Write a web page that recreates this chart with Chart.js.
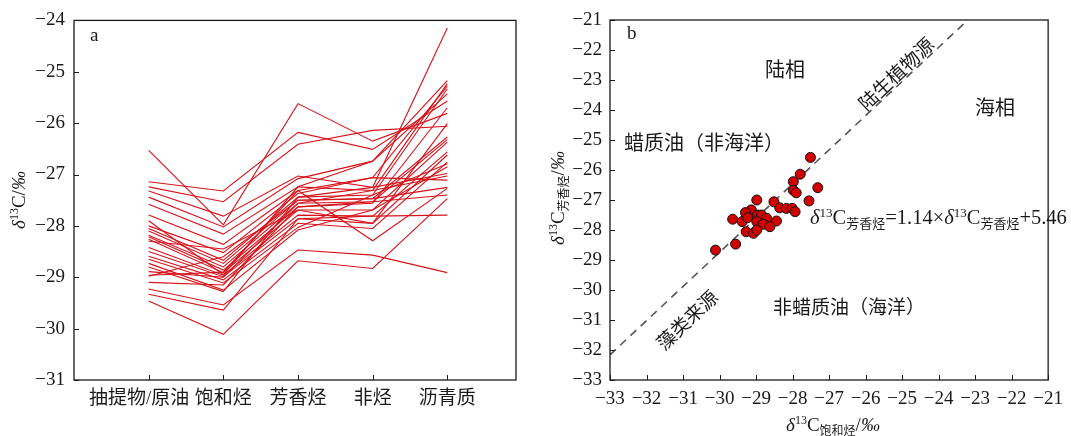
<!DOCTYPE html>
<html><head><meta charset="utf-8">
<script src="https://cdn.jsdelivr.net/npm/chart.js@4.4.0/dist/chart.umd.min.js"></script>
<style>
html,body{margin:0;padding:0;background:#fff;}
#wrap{position:relative;width:1071px;height:436px;overflow:hidden;background:#fff;}
#ca{position:absolute;left:0;top:0;}
#cb{position:absolute;left:540px;top:0;}
</style></head><body>
<div id="wrap"><canvas id="ca" width="540" height="436"></canvas><canvas id="cb" width="531" height="436"></canvas></div>
<script>
// ---------- data ----------
const categories = ['抽提物/原油','饱和烃','芳香烃','非烃','沥青质'];
const extract    = [-26.53,-27.14,-27.24,-27.32,-27.44,-27.58,-27.79,-28.00,-28.05,-28.10,-28.18,-28.21,-28.26,-28.42,-28.50,-28.59,-28.65,-28.73,-28.80,-28.89,-28.96,-28.98,-29.10,-29.23,-29.33,-29.46,-28.30,-27.90];
const saturates  = [-27.98,-27.32,-27.53,-27.81,-28.02,-28.16,-28.36,-28.52,-28.67,-28.73,-28.80,-28.86,-28.91,-28.96,-28.99,-29.05,-29.11,-29.25,-29.28,-29.00,-28.90,-28.60,-29.15,-29.54,-29.64,-30.11,-28.45,-28.95];
const aromatics  = [-25.62,-26.18,-26.41,-27.03,-27.08,-27.24,-27.31,-27.37,-27.44,-27.50,-27.56,-27.63,-27.69,-27.79,-27.86,-27.95,-28.03,-28.08,-27.44,-27.56,-27.31,-27.50,-27.63,-28.47,-27.86,-28.68,-27.69,-27.24];
const nso        = [-26.35,-26.51,-26.14,-27.25,-26.74,-27.31,-28.29,-27.06,-27.40,-27.47,-27.53,-27.56,-27.69,-27.81,-27.95,-28.05,-27.40,-27.69,-27.25,-27.31,-27.06,-27.47,-27.53,-28.57,-27.81,-28.83,-27.95,-26.74];
const asphaltenes= [-25.81,-25.57,-26.06,-24.15,-25.17,-25.23,-27.27,-25.28,-25.33,-26.27,-26.32,-25.70,-26.37,-26.56,-26.62,-26.76,-26.79,-26.85,-26.98,-27.03,-27.11,-27.25,-27.40,-28.91,-27.79,-27.47,-26.01,-25.43];

const satC = [-27.51,-27.79,-27.98,-27.31,-27.98,-27.90,-27.55,-28.98,-28.51,-28.35,-28.17,-28.01,-27.93,-29.13,-29.29,-29.64,-29.38,-29.23,-28.96,-28.85,-28.71,-28.44,-28.98,-28.80,-28.62,-29.27,-29.07,-28.98,-29.56,-30.11];
const aroC = [-25.58,-26.14,-26.39,-26.59,-26.67,-26.76,-27.03,-27.00,-27.06,-27.26,-27.28,-27.28,-27.39,-27.33,-27.42,-27.64,-27.72,-27.59,-27.50,-27.50,-27.61,-27.70,-27.72,-27.81,-27.89,-28.06,-28.11,-28.00,-28.47,-28.67];

const fitX = [-33, -23.2];
const fitY = [-32.16, -21];

const yTicksA = [-31,-30,-29,-28,-27,-26,-25,-24];
const ticksB  = [-33,-32,-31,-30,-29,-28,-27,-26,-25,-24,-23,-22,-21];

// ---------- styling ----------
const SERIF = '"Liberation Serif","Noto Sans CJK SC",serif';
const CJK = '"Liberation Serif","Noto Sans CJK SC",sans-serif';
const INK = '#1a1a1a';
const RED = 'rgb(214,18,26)';
const minus = v => String(v).replace('-', '\u2212');

function rich(ctx, parts, x, y, rot, align){
  ctx.save(); ctx.translate(x, y); if (rot) ctx.rotate(rot);
  let w = 0;
  parts.forEach(p => { ctx.font = p[1]; p.w = ctx.measureText(p[0]).width; w += p.w; });
  let cx = align === 'left' ? 0 : -w/2;
  ctx.textBaseline = 'alphabetic'; ctx.fillStyle = INK;
  parts.forEach(p => { ctx.font = p[1]; ctx.fillText(p[0], cx, p[2] || 0); cx += p.w; });
  ctx.restore();
}
const F = (s, it) => (it ? 'italic ' : '') + s + 'px ' + SERIF;
function deltaParts(sub, big){
  const m = big || 19, s = Math.round(m * 0.64);
  const p = [['δ', F(m,true), 0], ['13', F(s), -7], ['C', F(m), 0]];
  if (sub) p.push([sub, s + 'px ' + CJK, 4]);
  return p;
}

const frame = {
  id: 'frame',
  afterDatasetsDraw(chart, args, opts){
    const {ctx, chartArea: a} = chart;
    const x = chart.scales.x, y = chart.scales.y;
    ctx.save();
    ctx.strokeStyle = INK; ctx.lineWidth = 1.3;
    ctx.strokeRect(a.left, a.top, a.right - a.left, a.bottom - a.top);
    ctx.lineWidth = 1;
    x.ticks.forEach(t => {
      const px = Math.round(x.getPixelForValue(t.value)) + 0.5;
      ctx.beginPath(); ctx.moveTo(px, a.bottom); ctx.lineTo(px, a.bottom - 5); ctx.stroke();
    });
    y.ticks.forEach(t => {
      const py = Math.round(y.getPixelForValue(t.value)) + 0.5;
      ctx.beginPath(); ctx.moveTo(a.left, py); ctx.lineTo(a.left + 5, py); ctx.stroke();
    });
    ctx.restore();
    if (opts.texts) opts.texts(ctx, chart);
  }
};

// ---------- chart a ----------
const fractions = [extract, saturates, aromatics, nso, asphaltenes];
const lineSets = extract.map((_, i) => ({
  data: fractions.map((arr, k) => ({x: k + 1, y: arr[i]})),
  borderColor: RED, borderWidth: 1.1, pointRadius: 0, fill: false, tension: 0
}));

new Chart(document.getElementById('ca'), {
  type: 'line',
  data: { datasets: lineSets },
  options: {
    responsive: false, animation: false,
    layout: { padding: { top: 20, right: 24, left: 0, bottom: 0 } },
    plugins: { legend: {display: false}, tooltip: {enabled: false},
      frame: { texts: (ctx, chart) => {
        rich(ctx, [['a', F(19)]], 90, 41, 0, 'left');
        ctx.save(); ctx.translate(19, 200); ctx.rotate(-Math.PI/2);
        rich(ctx, deltaParts().concat([['/', F(19)], ['‰', F(19,true)]]), 0, 6, 0);
        ctx.restore();
      } } },
    scales: {
      x: { type: 'linear', min: 0, max: 5.92,
        afterBuildTicks: s => { s.ticks = categories.map((c, i) => ({value: i + 1})); },
        ticks: { callback: v => (v === 1 ? categories[0] + '\u3000' : (categories[v - 1] || '')), font: {family: CJK, size: 19}, color: INK, padding: 8, maxRotation: 0, autoSkip: false },
        grid: { display: false, drawTicks: false }, border: { display: false },
        afterFit: s => { s.height = 56; } },
      y: { type: 'linear', min: -31, max: -24,
        afterBuildTicks: s => { s.ticks = yTicksA.map(v => ({value: v})); },
        ticks: { callback: minus, font: {family: SERIF, size: 19}, color: INK, padding: 9 },
        grid: { display: false, drawTicks: false }, border: { display: false },
        afterFit: s => { s.width = 74; } }
    }
  },
  plugins: [frame]
});

// ---------- chart b ----------
new Chart(document.getElementById('cb'), {
  type: 'scatter',
  data: { datasets: [
    { type: 'line', data: fitX.map((v, i) => ({x: v, y: fitY[i]})), borderColor: '#555', borderWidth: 1.6, borderDash: [8, 6], pointRadius: 0, fill: false, order: 2 },
    { data: satC.map((v, i) => ({x: v, y: aroC[i]})), backgroundColor: 'rgb(208,0,0)', borderColor: '#111', borderWidth: 1, pointRadius: 5, order: 1 }
  ]},
  options: {
    responsive: false, animation: false,
    layout: { padding: { top: 20, right: 14, left: 0, bottom: 0 } },
    plugins: { legend: {display: false}, tooltip: {enabled: false},
      frame: { texts: (ctx, chart) => {
        rich(ctx, [['b', F(19)]], 87, 39, 0, 'left');
        rich(ctx, [['陆相', '20px ' + CJK]], 245, 77, 0);
        rich(ctx, [['海相', '20px ' + CJK]], 455, 115, 0);
        rich(ctx, [['蜡质油（非海洋）', '20px ' + CJK]], 84, 150, 0, 'left');
        rich(ctx, [['非蜡质油（海洋）', '19px ' + CJK]], 233, 314, 0, 'left');
        rich(ctx, [['藻类来源', '19px ' + CJK]], 152, 325, -0.76);
        rich(ctx, [['陆生植物源', '19px ' + CJK]], 361, 79, -0.76);
        rich(ctx, deltaParts('芳香烃', 20.5).concat([['=1.14×', F(20.5)]]).concat(deltaParts('芳香烃', 20.5)).concat([['+5.46', F(20.5)]]), 270, 224, 0, 'left');
        ctx.save(); ctx.translate(18, 198); ctx.rotate(-Math.PI/2);
        rich(ctx, deltaParts('芳香烃').concat([['/', F(19)], ['‰', F(19,true)]]), 0, 6, 0);
        ctx.restore();
        rich(ctx, deltaParts('饱和烃').concat([['/', F(19)], ['‰', F(19,true)]]), 293, 431, 0);
      } } },
    scales: {
      x: { type: 'linear', min: -33, max: -21,
        afterBuildTicks: s => { s.ticks = ticksB.map(v => ({value: v})); },
        ticks: { callback: minus, font: {family: SERIF, size: 19}, color: INK, padding: 8, maxRotation: 0, autoSkip: false },
        grid: { display: false, drawTicks: false }, border: { display: false },
        afterFit: s => { s.height = 56; } },
      y: { type: 'linear', min: -33, max: -21,
        afterBuildTicks: s => { s.ticks = ticksB.map(v => ({value: v})); },
        ticks: { callback: minus, font: {family: SERIF, size: 19}, color: INK, padding: 8 },
        grid: { display: false, drawTicks: false }, border: { display: false },
        afterFit: s => { s.width = 70; } }
    }
  },
  plugins: [frame]
});
</script>
</body></html>
